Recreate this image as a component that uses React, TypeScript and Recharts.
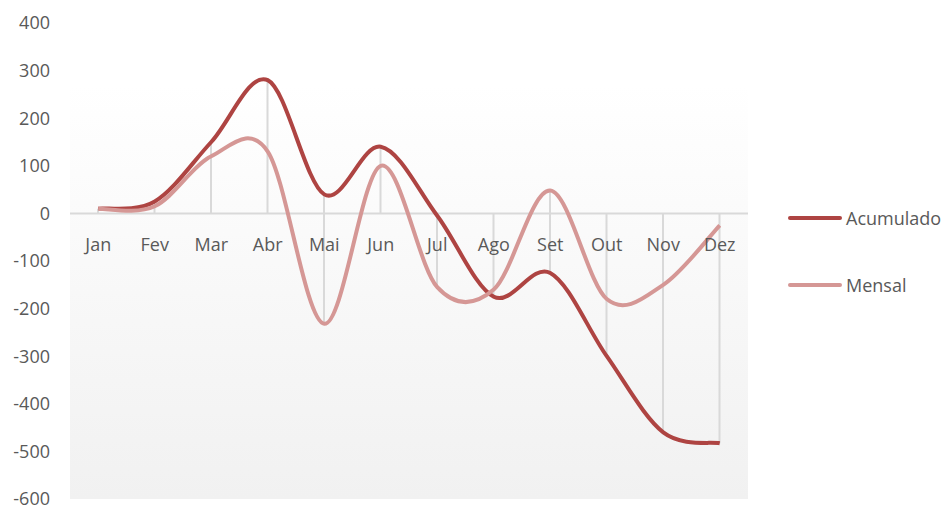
import {
  ComposedChart,
  Line,
  Bar,
  XAxis,
  YAxis,
  Legend,
  ReferenceArea,
  ReferenceLine,
  LabelList,
} from "recharts";

const months = ["Jan", "Fev", "Mar", "Abr", "Mai", "Jun", "Jul", "Ago", "Set", "Out", "Nov", "Dez"];
const acumulado = [10, 25, 150, 280, 40, 140, -5, -175, -125, -300, -460, -483];
const mensal = [10, 15, 120, 130, -232, 100, -155, -160, 48, -180, -150, -25];
const yTicks = [-600, -500, -400, -300, -200, -100, 0, 100, 200, 300, 400];

const FONT = "'Open Sans', sans-serif";
const TEXT = "#595959";
const C_ACUM = "#ae4442";
const C_MENSAL = "#d59795";

// Excel-like smoothing (Catmull-Rom turned into beziers)
function excelCurve(context: any) {
  let pts: number[][] = [];
  return {
    areaStart() {},
    areaEnd() {},
    lineStart() {
      pts = [];
    },
    lineEnd() {
      const n = pts.length;
      if (!n) return;
      context.moveTo(pts[0][0], pts[0][1]);
      for (let i = 0; i < n - 1; i++) {
        const p0 = pts[Math.max(i - 1, 0)];
        const p1 = pts[i];
        const p2 = pts[i + 1];
        const p3 = pts[Math.min(i + 2, n - 1)];
        context.bezierCurveTo(
          p1[0] + (p2[0] - p0[0]) / 6,
          p1[1] + (p2[1] - p0[1]) / 6,
          p2[0] - (p3[0] - p1[0]) / 6,
          p2[1] - (p3[1] - p1[1]) / 6,
          p2[0],
          p2[1]
        );
      }
    },
    point(x: number, y: number) {
      pts.push([+x, +y]);
    },
  };
}

const data = months.map((m, i) => ({
  month: m,
  acumulado: acumulado[i],
  mensal: mensal[i],
  zero: 0,
  drop: [Math.min(0, acumulado[i], mensal[i]), Math.max(0, acumulado[i], mensal[i])],
}));

function MonthLabel(props: any) {
  const { x, y, index } = props;
  return (
    <text
      x={x}
      y={y + 31}
      textAnchor="middle"
      dominantBaseline="central"
      fill={TEXT}
      fontSize={18}
      fontFamily={FONT}
    >
      {months[index]}
    </text>
  );
}

function LegendBox(props: any) {
  const items = (props.payload || []).filter((p: any) => p.value === "Acumulado" || p.value === "Mensal");
  return (
    <div>
      {items.map((p: any) => (
        <div key={p.value} style={{ display: "flex", alignItems: "center", height: 67 }}>
          <svg width={58} height={8}>
            <line x1={4} y1={4} x2={54} y2={4} stroke={p.color} strokeWidth={4} strokeLinecap="round" />
          </svg>
          <span style={{ color: TEXT, fontSize: 18, fontFamily: FONT, marginLeft: 2 }}>{p.value}</span>
        </div>
      ))}
    </div>
  );
}

export default function App() {
  return (
    <div style={{ position: "absolute", left: 0, top: 0, background: "#fff" }}>
      <ComposedChart
        width={947}
        height={508}
        data={data}
        margin={{ top: 23, right: 38, bottom: 9, left: 0 }}
      >
        <defs>
          <linearGradient id="plotBg" x1="0" y1="0" x2="0" y2="1">
            <stop offset="0%" stopColor="#ffffff" />
            <stop offset="100%" stopColor="#f1f1f1" />
          </linearGradient>
        </defs>
        <XAxis dataKey="month" hide />
        <YAxis
          domain={[-600, 400]}
          ticks={yTicks}
          width={70}
          axisLine={false}
          tickLine={false}
          tickMargin={14}
          interval={0}
          tick={{ fill: TEXT, fontSize: 18, fontFamily: FONT }}
        />
        <ReferenceArea y1={-600} y2={270} fill="url(#plotBg)" fillOpacity={1} stroke="none" />
        <ReferenceLine y={0} stroke="#d9d9d9" strokeWidth={2} />
        <Bar dataKey="drop" barSize={2} fill="#d9d9d9" legendType="none" isAnimationActive={false} />
        <Line
          dataKey="zero"
          stroke="none"
          dot={false}
          activeDot={false}
          legendType="none"
          isAnimationActive={false}
        >
          <LabelList dataKey="zero" content={<MonthLabel />} />
        </Line>
        <Line
          name="Acumulado"
          dataKey="acumulado"
          type={excelCurve as any}
          stroke={C_ACUM}
          strokeWidth={4}
          dot={false}
          isAnimationActive={false}
        />
        <Line
          name="Mensal"
          dataKey="mensal"
          type={excelCurve as any}
          stroke={C_MENSAL}
          strokeWidth={4}
          dot={false}
          isAnimationActive={false}
        />
        <Legend
          layout="vertical"
          align="right"
          verticalAlign="top"
          content={<LegendBox />}
          wrapperStyle={{ left: 786, top: 184, width: 161 }}
        />
      </ComposedChart>
    </div>
  );
}
